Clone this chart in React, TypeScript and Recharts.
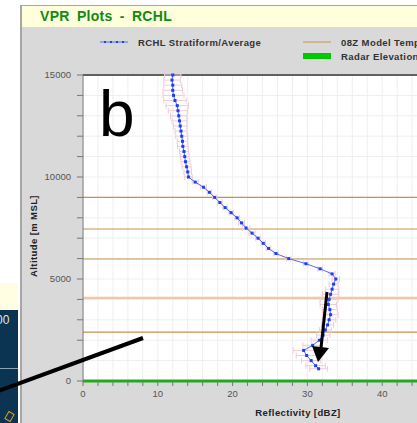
import { ScatterChart, Scatter, XAxis, YAxis, CartesianGrid, ReferenceLine, ErrorBar } from 'recharts';

// VPR profile (altitude in m MSL, reflectivity in dBZ, +/- spread)
const altitudes = [
  15000, 14750, 14500, 14250, 14000, 13750, 13500, 13250, 13000, 12750,
  12500, 12250, 12000, 11750, 11500, 11250, 11000, 10750, 10500, 10250,
  10000, 9750, 9500, 9250, 9000, 8750, 8500, 8250, 8000, 7750,
  7500, 7250, 7000, 6750, 6500, 6250, 6000, 5750, 5500, 5250,
  5000, 4750, 4500, 4250, 4000, 3750, 3500, 3250, 3000, 2750,
  2500, 2250, 2000, 1750, 1500, 1250, 1000, 750, 600,
];
const reflectivity = [
  12.0, 11.9, 12.0, 12.0, 12.1, 12.3, 12.6, 12.7, 12.8, 12.9,
  13.0, 13.1, 13.2, 13.3, 13.35, 13.5, 13.6, 13.7, 13.85, 14.0,
  14.1, 15.0, 16.1, 16.9, 17.6, 18.3, 19.0, 19.8, 20.6, 21.2,
  21.8, 22.6, 23.4, 24.1, 24.8, 25.8, 27.5, 29.8, 31.7, 33.3,
  33.8, 33.5, 33.3, 33.1, 32.9, 32.8, 33.0, 33.1, 32.9, 32.7,
  32.4, 32.1, 31.6, 30.7, 29.5, 29.9, 30.5, 31.1, 31.5,
];
const spread = [
  1.1, 1.1, 1.2, 1.3, 1.4, 1.5, 1.5, 1.3, 1.1, 1.0,
  0.9, 0.8, 0.8, 0.7, 0.7, 0.6, 0.6, 0.6, 0.6, 0.5,
  0.5, 0.4, 0.4, 0.3, 0.3, 0.3, 0.3, 0.3, 0.3, 0.4,
  0.5, 0.4, 0.3, 0.3, 0.3, 0.3, 0.3, 0.3, 0.3, 0.4,
  0.5, 0.6, 0.9, 1.1, 1.2, 1.1, 1.0, 1.0, 0.9, 0.8,
  0.8, 0.9, 1.1, 1.3, 1.4, 1.4, 1.3, 1.3, 1.2,
];

// 08Z model temperature levels (m MSL)
const modelTempLevels = [9000, 7450, 5980, 2400];
const freezingLevel = 4070;
const radarElevation = 0;
const plotTop = 15000;

const xTicks = [0, 2, 4, 6, 8, 10, 12, 14, 16, 18, 20, 22, 24, 26, 28, 30, 32, 34, 36, 38, 40, 42, 44, 46, 48, 50];
const yTicks = [0, 1000, 2000, 3000, 4000, 5000, 6000, 7000, 8000, 9000, 10000, 11000, 12000, 13000, 14000, 15000];

const FONT = '"Liberation Sans", Arial, sans-serif';

const data = altitudes.map((alt, i) => ({ alt, dbz: reflectivity[i], err: spread[i] }));

const Dot = (props: any) => {
  const { cx, cy } = props;
  if (cx == null || cy == null) return null;
  return <rect x={cx - 1.5} y={cy - 1.5} width={3} height={3} fill="#1d3cff" />;
};

export default function App() {
  return (
    <div style={{ position: 'absolute', left: 0, top: 0, width: 417, height: 423, overflow: 'hidden', background: '#fff', fontFamily: FONT }}>
      {/* neighbouring panel on the left */}
      <div style={{ position: 'absolute', left: 0, top: 283, width: 18, height: 27, background: '#fffde2' }} />
      <div style={{ position: 'absolute', left: 0, top: 310, width: 18, height: 113, background: '#0b3352' }} />
      <div style={{ position: 'absolute', left: -4, top: 313, fontSize: 12, color: '#dfe8ee' }}>00</div>
      <div style={{ position: 'absolute', left: 0, top: 368, width: 18, height: 1, background: '#8da3b4' }} />
      <div style={{ position: 'absolute', left: 6, top: 412, width: 5, height: 7, border: '1.5px solid #e0962a', transform: 'rotate(30deg)' }} />

      {/* window */}
      <div style={{ position: 'absolute', left: 20, top: 5, width: 400, height: 420, background: '#d9d9d9', borderLeft: '2px solid #a6a6a6', borderTop: '1px solid #a6a6a6' }} />
      <div style={{ position: 'absolute', left: 22, top: 6, width: 400, height: 21, background: '#ffffdc' }} />
      <div style={{ position: 'absolute', left: 40, top: 8, fontSize: 14, fontWeight: 'bold', color: '#118a11', wordSpacing: 3, letterSpacing: 0.3 }}>
        VPR Plots - RCHL
      </div>

      {/* legend */}
      <svg style={{ position: 'absolute', left: 0, top: 0 }} width={417} height={70}>
        <line x1={100} y1={42} x2={128} y2={42} stroke="#4f6cff" strokeWidth={1} />
        {[105, 111, 117, 123].map((x) => (
          <rect key={x} x={x - 1} y={41} width={2} height={2} fill="#1d3cff" />
        ))}
        <text x={138} y={45.5} fontSize={9.5} fontWeight="bold" fill="#333" fontFamily={FONT} letterSpacing={0.4}>
          RCHL Stratiform/Average
        </text>
        <line x1={303} y1={42} x2={331} y2={42} stroke="#c8914f" strokeWidth={1} />
        <text x={341} y={45.5} fontSize={9.5} fontWeight="bold" fill="#333" fontFamily={FONT} letterSpacing={0.4}>
          08Z Model Temperature
        </text>
        <rect x={303} y={53} width={28} height={6} fill="#00c800" />
        <text x={341} y={59.5} fontSize={9.5} fontWeight="bold" fill="#333" fontFamily={FONT} letterSpacing={0.4}>
          Radar Elevation
        </text>
      </svg>

      <div style={{ position: 'absolute', left: 21, top: 27 }}>
        <ScatterChart width={446} height={396} margin={{ top: 48, right: 10, bottom: 0, left: 0 }}>
          <CartesianGrid stroke="#efefef" fill="#ffffff" horizontalValues={yTicks} verticalValues={xTicks} />
          <XAxis
            type="number"
            dataKey="dbz"
            domain={[0, 50]}
            ticks={xTicks}
            interval={0}
            tickFormatter={(v: number) => (v % 10 === 0 ? `${v}` : '')}
            tick={{ fontSize: 9.5, fill: '#555', fontFamily: FONT }}
            tickLine={{ stroke: '#777' }}
            axisLine={false}
            tickSize={5}
            tickMargin={4}
            height={42}
            label={() => (
              <text x={277} y={389} fontSize={9.5} fontWeight="bold" fill="#222" fontFamily={FONT} textAnchor="middle" letterSpacing={0.4}>
                Reflectivity [dBZ]
              </text>
            )}
          />
          <YAxis
            type="number"
            dataKey="alt"
            domain={[0, 15000]}
            ticks={yTicks}
            interval={0}
            tickFormatter={(v: number) => (v % 5000 === 0 ? `${v}` : '')}
            tick={{ fontSize: 9.5, fill: '#555', fontFamily: FONT }}
            tickLine={{ stroke: '#777' }}
            axisLine={{ stroke: '#777' }}
            tickSize={6}
            tickMargin={6}
            width={62}
            label={() => (
              <text x={12} y={209} fontSize={9.5} fontWeight="bold" fill="#222" fontFamily={FONT} textAnchor="middle" letterSpacing={0.4} transform="rotate(-90 12 209)" dominantBaseline="central">
                Altitude [m MSL]
              </text>
            )}
          />
          <ReferenceLine y={plotTop} stroke="#606060" strokeWidth={2} />
          {modelTempLevels.map((lvl) => (
            <ReferenceLine key={lvl} y={lvl} stroke="#c8914f" strokeWidth={1.2} />
          ))}
          <ReferenceLine y={freezingLevel} stroke="#f0c8a6" strokeWidth={2.5} />
          <ReferenceLine y={radarElevation} stroke="#1faa1f" strokeWidth={3} />
          <Scatter
            data={data}
            shape={<Dot />}
            line={{ stroke: '#4f6cff', strokeWidth: 1 }}
            lineType="joint"
            isAnimationActive={false}
          >
            <ErrorBar dataKey="err" direction="x" width={3} stroke="#efccd2" strokeWidth={1} />
          </Scatter>
        </ScatterChart>
      </div>

      {/* annotations */}
      <svg style={{ position: 'absolute', left: 0, top: 0, pointerEvents: 'none' }} width={417} height={423}>
        <text x={99} y={136} fontSize={64} fill="#000" fontFamily={FONT}>b</text>
        <line x1={-2} y1={391} x2={143} y2={338} stroke="#000" strokeWidth={4} />
        <line x1={327} y1={292} x2={321} y2={348} stroke="#000" strokeWidth={3} />
        <polygon points="312,346 329,348 318,362" fill="#000" />
      </svg>
    </div>
  );
}
